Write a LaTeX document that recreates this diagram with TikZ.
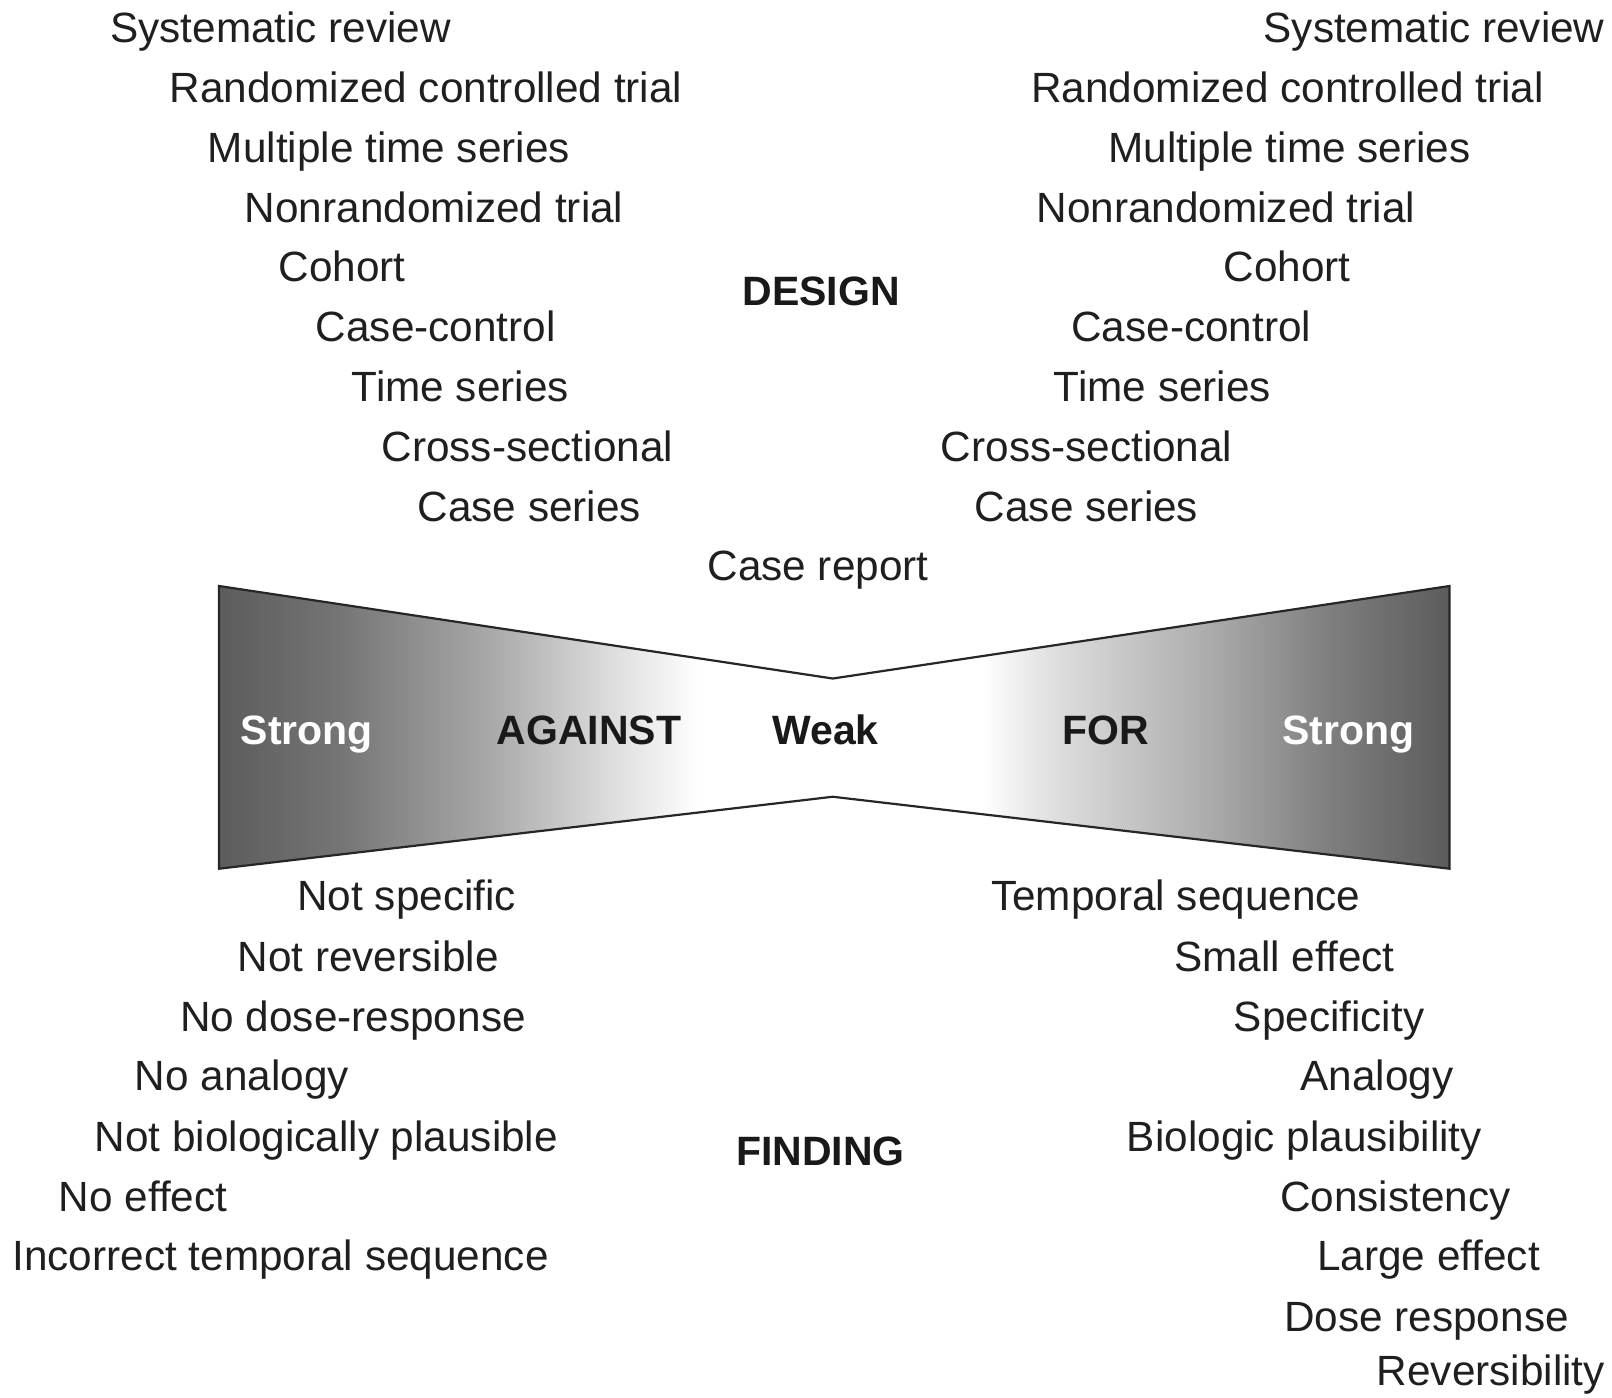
\documentclass[tikz,border=0pt]{standalone}
\usepackage{fontspec}
\setmainfont{Liberation Sans}
\pgfdeclarehorizontalshading{bowshade}{100bp}{%
color(0bp)=(black!64);
color(25bp)=(black!64);
color(30bp)=(black!54);
color(36bp)=(black!34);
color(41bp)=(black!13);
color(44.5bp)=(white);
color(56bp)=(white);
color(59bp)=(black!13);
color(65bp)=(black!32);
color(70bp)=(black!50);
color(75bp)=(black!64);
color(100bp)=(black!64)}
\begin{document}
\begin{tikzpicture}[x=1.028pt,y=-1.028pt,
  txt/.style={anchor=base west, inner sep=0pt, font=\fontsize{42.3}{50}\selectfont, text=black!88},
  lbl/.style={anchor=base west, inner sep=0pt, font=\fontsize{41}{50}\selectfont\bfseries, text=black!90},
  wlbl/.style={lbl, text=white}]
\useasboundingbox (0,0) rectangle (1568,1359);
% bowtie
\draw[line width=2.2pt, draw=black!85, shading=bowshade]
  (213,570) -- (810,660) -- (1410,570) -- (1410,845) -- (810,775) -- (213,845) -- cycle;
% bowtie labels
\node[wlbl] (sl) at (234,724) {Strong};
\node[lbl] (ag) at (483,724) {AGAINST};
\node[lbl] (wk) at (751,724) {Weak};
\node[lbl] (fo) at (1033,724) {FOR};
\node[wlbl] (sr) at (1247,724) {Strong};
\node[lbl] (de) at (722,297) {DESIGN};
\node[lbl] (fi) at (716,1134) {FINDING};
% design left
\node[txt] (l1) at (107,41) {Systematic review};
\node[txt] (l2) at (165,100) {Randomized controlled trial};
\node[txt] (l3) at (202,158) {Multiple time series};
\node[txt] (l4) at (238,216) {Nonrandomized trial};
\node[txt] (l5) at (271,274) {Cohort};
\node[txt] (l6) at (307,332) {Case-control};
\node[txt] (l7) at (342,391) {Time series};
\node[txt] (l8) at (371,449) {Cross-sectional};
\node[txt] (l9) at (406,507) {Case series};
\node[txt] (cr) at (688,565) {Case report};
% design right
\node[txt] (r1) at (1229,41) {Systematic review};
\node[txt] (r2) at (1003,100) {Randomized controlled trial};
\node[txt] (r3) at (1078,158) {Multiple time series};
\node[txt] (r4) at (1008,216) {Nonrandomized trial};
\node[txt] (r5) at (1190,274) {Cohort};
\node[txt] (r6) at (1042,332) {Case-control};
\node[txt] (r7) at (1025,391) {Time series};
\node[txt] (r8) at (915,449) {Cross-sectional};
\node[txt] (r9) at (948,507) {Case series};
% findings left
\node[txt] (a1) at (289,886) {Not specific};
\node[txt] (a2) at (231,945) {Not reversible};
\node[txt] (a3) at (175,1003) {No dose-response};
\node[txt] (a4) at (131,1061) {No analogy};
\node[txt] (a5) at (92,1120) {Not biologically plausible};
\node[txt] (a6) at (57,1178) {No effect};
\node[txt] (a7) at (12,1236) {Incorrect temporal sequence};
% findings right
\node[txt] (f1) at (964,886) {Temporal sequence};
\node[txt] (f2) at (1142,945) {Small effect};
\node[txt] (f3) at (1200,1003) {Specificity};
\node[txt] (f4) at (1265,1061) {Analogy};
\node[txt] (f5) at (1096,1120) {Biologic plausibility};
\node[txt] (f6) at (1245,1178) {Consistency};
\node[txt] (f7) at (1281,1236) {Large effect};
\node[txt] (f8) at (1249,1295) {Dose response};
\node[txt] (f9) at (1339,1348) {Reversibility};
\end{tikzpicture}
\end{document}
